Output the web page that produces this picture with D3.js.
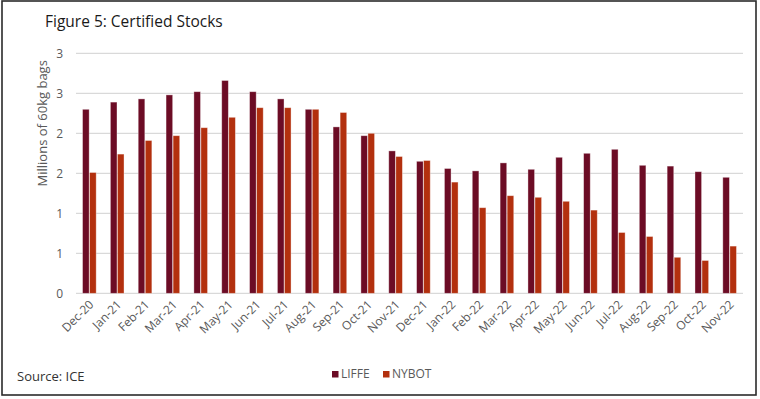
<!DOCTYPE html>
<html>
<head>
<meta charset="utf-8">
<script src="https://cdn.jsdelivr.net/npm/d3@7"></script>
<style>
  body { margin: 0; background: #fff; }
  text { font-family: "Open Sans", "Noto Sans", sans-serif; }
</style>
</head>
<body>
<div id="chart"></div>
<script>
const WIDTH = 760;
const HEIGHT = 399;

const months = ['Dec-20', 'Jan-21', 'Feb-21', 'Mar-21', 'Apr-21', 'May-21', 'Jun-21', 'Jul-21',
  'Aug-21', 'Sep-21', 'Oct-21', 'Nov-21', 'Dec-21', 'Jan-22', 'Feb-22', 'Mar-22', 'Apr-22',
  'May-22', 'Jun-22', 'Jul-22', 'Aug-22', 'Sep-22', 'Oct-22', 'Nov-22'];
const liffe = [2.30, 2.39, 2.43, 2.48, 2.52, 2.66, 2.52, 2.43, 2.30, 2.08, 1.97, 1.78,
  1.65, 1.56, 1.53, 1.63, 1.55, 1.70, 1.75, 1.80, 1.60, 1.59, 1.52, 1.45];
const nybot = [1.51, 1.74, 1.91, 1.97, 2.07, 2.20, 2.32, 2.32, 2.30, 2.26, 2.00, 1.71,
  1.66, 1.39, 1.07, 1.22, 1.20, 1.15, 1.04, 0.76, 0.71, 0.45, 0.41, 0.59];
const seriesNames = ['LIFFE', 'NYBOT'];
const seriesColors = ['#6c0c25', '#b3300e'];
const yTicks = [0, 0.5, 1, 1.5, 2, 2.5, 3];

const svg = d3.select('#chart').append('svg')
  .attr('width', WIDTH)
  .attr('height', HEIGHT);

// frame
svg.append('rect')
  .attr('x', 2).attr('y', 1)
  .attr('width', 754).attr('height', 394)
  .attr('fill', 'none')
  .attr('stroke', '#2b2b2b')
  .attr('stroke-width', 1.6);

svg.append('text')
  .attr('x', 45).attr('y', 27)
  .attr('font-size', 15.5)
  .attr('fill', '#1a1a1a')
  .text('Figure 5: Certified Stocks');

const plot = { left: 76, right: 743, top: 53.3, bottom: 293.3 };

const y = d3.scaleLinear().domain([0, 3]).range([plot.bottom, plot.top]);
const x0 = d3.scaleBand().domain(months).range([plot.left, plot.right])
  .paddingInner(0.48).paddingOuter(0.22);
const x1 = d3.scaleBand().domain(seriesNames).range([0, x0.bandwidth()]).padding(0.06);

// gridlines
svg.append('g')
  .selectAll('line')
  .data(yTicks)
  .enter()
  .append('line')
  .attr('x1', plot.left).attr('x2', plot.right)
  .attr('y1', (d) => y(d)).attr('y2', (d) => y(d))
  .attr('stroke', '#d9d9d9')
  .attr('stroke-width', 1.3);

// y axis labels (rounded like the original)
const yAxis = d3.axisLeft(y).tickValues(yTicks).tickSize(0).tickPadding(0)
  .tickFormat((d) => d3.format('.0f')(d));
svg.append('g')
  .attr('transform', `translate(${plot.left - 13},0)`)
  .call(yAxis)
  .call((g) => g.select('.domain').remove())
  .selectAll('text')
  .attr('font-family', '"Open Sans", sans-serif')
  .attr('font-size', 12)
  .attr('fill', '#595959');

svg.append('text')
  .attr('transform', `translate(47,${(plot.top + plot.bottom) / 2 - 50}) rotate(-90)`)
  .attr('text-anchor', 'middle')
  .attr('font-size', 13)
  .attr('fill', '#595959')
  .text('Millions of 60kg bags');

// bars
const rows = months.map((m, i) => ({ month: m, values: [liffe[i], nybot[i]] }));
const groups = svg.append('g')
  .selectAll('g.month')
  .data(rows)
  .enter()
  .append('g')
  .attr('class', 'month')
  .attr('transform', (d) => `translate(${x0(d.month)},0)`);

groups.selectAll('rect')
  .data((d) => d.values.map((v, k) => ({ key: seriesNames[k], value: v, k })))
  .enter()
  .append('rect')
  .attr('x', (d) => x1(d.key))
  .attr('width', x1.bandwidth())
  .attr('y', (d) => y(d.value))
  .attr('height', (d) => y(0) - y(d.value))
  .attr('fill', (d) => seriesColors[d.k])
  .attr('stroke', 'rgba(255,255,255,0.45)')
  .attr('stroke-width', 0.8);

// x axis labels
const xAxis = d3.axisBottom(x0).tickSize(0).tickPadding(0);
svg.append('g')
  .attr('transform', `translate(0,${plot.bottom})`)
  .call(xAxis)
  .call((g) => g.select('.domain').remove())
  .selectAll('text')
  .attr('font-family', '"Open Sans", sans-serif')
  .attr('font-size', 12)
  .attr('fill', '#595959')
  .attr('text-anchor', 'end')
  .attr('dy', 0)
  .attr('transform', 'translate(5,12) rotate(-45)');

// legend
const legend = svg.append('g').attr('transform', 'translate(332,371)');
const items = legend.selectAll('g')
  .data(seriesNames)
  .enter()
  .append('g')
  .attr('transform', (d, i) => `translate(${i * 51},0)`);
items.append('rect')
  .attr('width', 6.5).attr('height', 6.5)
  .attr('fill', (d, i) => seriesColors[i]);
items.append('text')
  .attr('x', 9).attr('y', 7)
  .attr('font-size', 12)
  .attr('fill', '#595959')
  .text((d) => d);

svg.append('text')
  .attr('x', 17).attr('y', 381)
  .attr('font-size', 13)
  .attr('fill', '#333')
  .text('Source: ICE');
</script>
</body>
</html>
